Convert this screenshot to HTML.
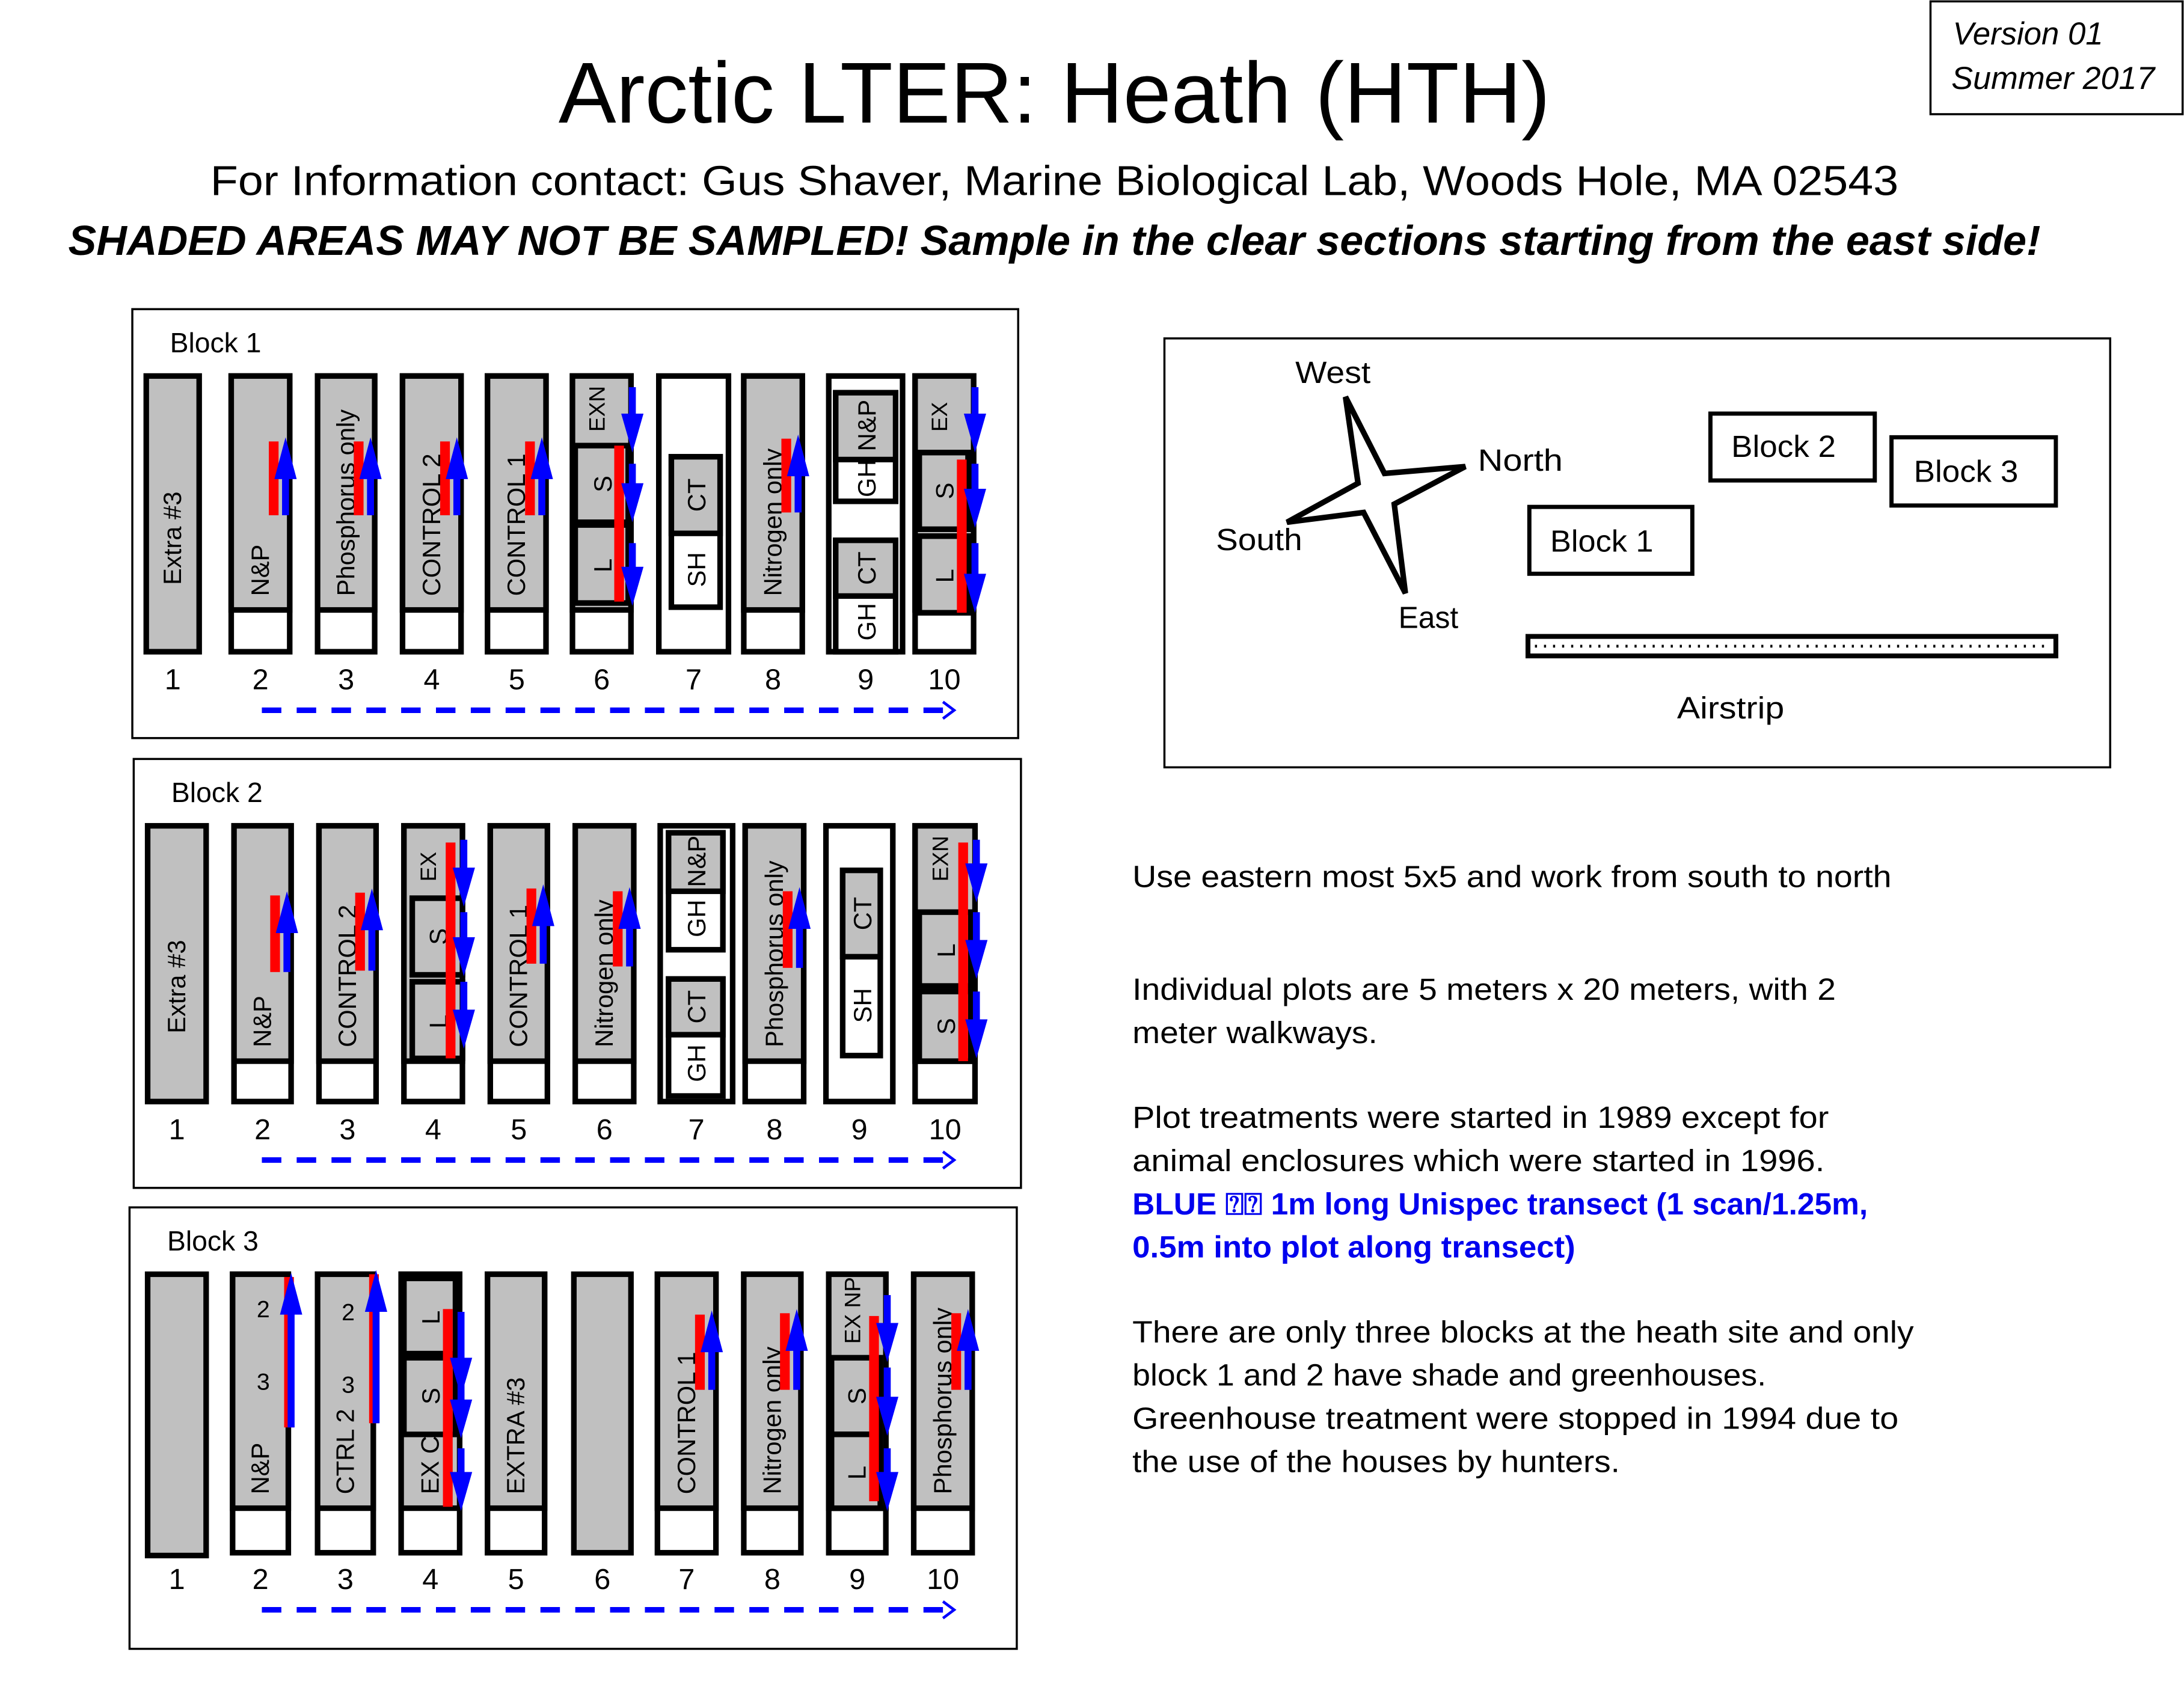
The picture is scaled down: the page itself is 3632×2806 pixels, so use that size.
<!DOCTYPE html>
<html><head><meta charset="utf-8"><style>
html,body{margin:0;padding:0;background:#fff}
svg{display:block}
text{font-family:"Liberation Sans",sans-serif}
</style></head><body>
<svg id="s" xmlns="http://www.w3.org/2000/svg" width="3632" height="2806" viewBox="0 0 1568 1211.4">
<g id="hdr">
<text x="757" y="88" font-size="62" text-anchor="middle" textLength="712" lengthAdjust="spacingAndGlyphs">Arctic LTER: Heath (HTH)</text>
<text x="757" y="140" font-size="30" text-anchor="middle" textLength="1212" lengthAdjust="spacingAndGlyphs">For Information contact: Gus Shaver, Marine Biological Lab, Woods Hole, MA 02543</text>
<text x="757" y="183" font-size="30" font-weight="bold" font-style="italic" text-anchor="middle" textLength="1416" lengthAdjust="spacingAndGlyphs">SHADED AREAS MAY NOT BE SAMPLED! Sample in the clear sections starting from the east side!</text>
<rect x="1386" y="1" width="181" height="81" fill="none" stroke="#000" stroke-width="1.5"/>
<text x="1402" y="32" font-size="23" font-style="italic" textLength="108" lengthAdjust="spacingAndGlyphs">Version 01</text>
<text x="1401" y="64" font-size="23" font-style="italic" textLength="146" lengthAdjust="spacingAndGlyphs">Summer 2017</text>
</g>
<g id="map">
<rect x="836" y="243" width="679" height="308" fill="none" stroke="#000" stroke-width="1.5"/>
<polygon points="966,285 994,340 1052,335 1001,362 1009,426 979,368 924,375 975,347" fill="#fff" stroke="#000" stroke-width="4" stroke-linejoin="miter"/>
<text x="930" y="275" font-size="22" textLength="54" lengthAdjust="spacingAndGlyphs">West</text>
<text x="1061" y="338" font-size="22" textLength="61" lengthAdjust="spacingAndGlyphs">North</text>
<text x="873" y="395" font-size="22" textLength="62" lengthAdjust="spacingAndGlyphs">South</text>
<text x="1004" y="451" font-size="22" textLength="43" lengthAdjust="spacingAndGlyphs">East</text>
<rect x="1098" y="364" width="117" height="48" fill="#fff" stroke="#000" stroke-width="3"/>
<text x="1113" y="396" font-size="22" textLength="74" lengthAdjust="spacingAndGlyphs">Block 1</text>
<rect x="1228" y="297" width="118" height="48" fill="#fff" stroke="#000" stroke-width="3"/>
<text x="1243" y="328" font-size="22" textLength="75" lengthAdjust="spacingAndGlyphs">Block 2</text>
<rect x="1358" y="314" width="118" height="49" fill="#fff" stroke="#000" stroke-width="3"/>
<text x="1374" y="346" font-size="22" textLength="75" lengthAdjust="spacingAndGlyphs">Block 3</text>
<rect x="1097" y="457" width="379" height="14" fill="#fff" stroke="#000" stroke-width="3.5"/>
<line x1="1102" y1="464" x2="1472" y2="464" stroke="#000" stroke-width="2" stroke-dasharray="1.5,5"/>
<text x="1204" y="516" font-size="22" textLength="77" lengthAdjust="spacingAndGlyphs">Airstrip</text>
</g>
<g id="notes" font-size="22">
<text x="813" y="637" font-size="22" textLength="545" lengthAdjust="spacingAndGlyphs">Use eastern most 5x5 and work from south to north</text>
<text x="813" y="718" font-size="22" textLength="505" lengthAdjust="spacingAndGlyphs">Individual plots are 5 meters x 20 meters, with 2</text>
<text x="813" y="749" font-size="22" textLength="176" lengthAdjust="spacingAndGlyphs">meter walkways.</text>
<text x="813" y="810" font-size="22" textLength="500" lengthAdjust="spacingAndGlyphs">Plot treatments were started in 1989 except for</text>
<text x="813" y="841" font-size="22" textLength="497" lengthAdjust="spacingAndGlyphs">animal enclosures which were started in 1996.</text>
<text x="813" y="872" font-size="22" font-weight="bold" fill="#0000ee" textLength="528" lengthAdjust="spacingAndGlyphs">BLUE ⍰⍰ 1m long Unispec transect (1 scan/1.25m,</text>
<text x="813" y="903" font-size="22" font-weight="bold" fill="#0000ee" textLength="318" lengthAdjust="spacingAndGlyphs">0.5m into plot along transect)</text>
<text x="813" y="964" font-size="22" textLength="561" lengthAdjust="spacingAndGlyphs">There are only three blocks at the heath site and only</text>
<text x="813" y="995" font-size="22" textLength="455" lengthAdjust="spacingAndGlyphs">block 1 and 2 have shade and greenhouses.</text>
<text x="813" y="1026" font-size="22" textLength="550" lengthAdjust="spacingAndGlyphs">Greenhouse treatment were stopped in 1994 due to</text>
<text x="813" y="1057" font-size="22" textLength="350" lengthAdjust="spacingAndGlyphs">the use of the houses by hunters.</text>
</g>
<g id="blocks"></g>
</svg>
<script>
const blockNames = ['Block 1','Block 2','Block 3'];
const blockFrames = [[95,222,636,308],[96,545,637,308],[93,867,637,317]];
const plotTops = [270,593,915];
const plotBottoms = [468,791,1115];
const grayEnds = [438,762,1083];
const plotX = [
 [[105,143],[166,208],[228,269],[289,331],[350,392],[411,453],[473,523],[534,576],[595,648],[657,699]],
 [[106,148],[168,209],[229,270],[290,332],[352,393],[413,455],[474,526],[535,577],[593,641],[657,700]],
 [[106,148],[167,207],[228,268],[288,330],[350,391],[412,453],[472,514],[534,575],[595,636],[656,698]]
];
const plotLabels = [
 ['Extra #3','N&P','Phosphorus only','CONTROL 2','CONTROL 1','','','Nitrogen only','',''],
 ['Extra #3','N&P','CONTROL 2','','CONTROL 1','Nitrogen only','','Phosphorus only','',''],
 ['','N&P','CTRL 2','EX C','EXTRA #3','','CONTROL 1','Nitrogen only','','Phosphorus only']
];
const plotKinds = [
 ['full','std','std','std','std','std','white','std','white','std'],
 ['full','std','std','std','std','std','white','std','white','std'],
 ['full','std','std','std','std','full','std','std','std','std']
];
const upArrows = [
 [0,1,317,370],[0,2,317,370],[0,3,317,370],[0,4,317,370],[0,7,315,368],
 [1,1,643,698],[1,2,641,697],[1,4,638,692],[1,5,640,694],[1,7,640,695],
 [2,1,917,1025],[2,2,915,1022],[2,6,944,998],[2,7,943,998],[2,9,943,998]
];
const downArrows = [
 [0,5,278,322],[0,5,333,372],[0,5,390,432],[0,9,278,322],[0,9,333,376],[0,9,390,437],
 [1,3,603,648],[1,3,655,698],[1,3,705,750],[1,9,603,645],[1,9,655,700],[1,9,712,757],
 [2,3,942,1000],[2,3,985,1030],[2,3,1040,1082],[2,8,930,975],[2,8,982,1028],[2,8,1040,1082]
];
const redBars = [[0,5,320,432],[0,9,330,440],[1,3,605,760],[1,9,605,762],[2,3,940,1082],[2,8,945,1078]];
const subBoxes = [
 [0,413,320,38,55,55,'S',''],[0,413,377,38,56,56,'L',''],
 [0,482,328,35,108,55,'CT','SH'],
 [0,600,282,43,78,48,'N&P','GH'],[0,600,388,43,80,40,'CT','GH'],
 [0,660,325,35,55,55,'S',''],[0,660,385,35,55,55,'L',''],
 [1,296,645,36,55,55,'S',''],[1,296,705,36,55,55,'L',''],
 [1,480,598,39,84,42,'N&P','GH'],[1,480,703,39,84,40,'CT','GH'],
 [1,605,625,27,133,62,'CT','SH'],
 [1,660,655,37,53,53,'L',''],[1,660,712,37,50,50,'S',''],
 [2,290,918,37,54,54,'L',''],[2,290,975,37,55,55,'S',''],
 [2,597,975,35,55,55,'S',''],[2,597,1030,35,53,53,'L','']
];
const topLabels = [[0,5,'EXN'],[0,9,'EX'],[1,3,'EX'],[1,9,'EXN'],[2,8,'EX NP']];
const numLabels = ['1','2','3','4','5','6','7','8','9','10'];
const numY = [495,818,1141];

const NS='http://www.w3.org/2000/svg';
const root=document.getElementById('blocks');
function mk(tag,attrs,parent){const e=document.createElementNS(NS,tag);for(const k in attrs)e.setAttribute(k,attrs[k]);(parent||root).appendChild(e);return e;}

blockFrames.forEach((f,b)=>{
  const g=mk('g',{});
  
  
  const fr=mk('rect',{x:f[0],y:f[1],width:f[2],height:f[3],fill:'none',stroke:'#000','stroke-width':1.5},g);
  
  
  const t=mk('text',{x:f[0]+27,y:f[1]+31,'font-size':20},g);
  t.textContent=blockNames[b];
  
  
  const top=plotTops[b],bot=plotBottoms[b],ge=grayEnds[b];
  plotX[b].forEach((px,i)=>{
    const [x0,x1]=px;const kind=plotKinds[b][i];
    const pg=mk('g',{},g);
    
    
    const bb=(b==2&&i==0)?bot+2:bot;
    if(kind==='white'){
      mk('rect',{x:x0,y:top,width:x1-x0,height:bb-top,fill:'#fff',stroke:'#000','stroke-width':4},pg);
    }else if(kind==='full'){
      mk('rect',{x:x0,y:top,width:x1-x0,height:bb-top,fill:'#c0c0c0',stroke:'#000','stroke-width':4},pg);
    }else{
      mk('rect',{x:x0,y:top,width:x1-x0,height:bb-top,fill:'#fff',stroke:'#000','stroke-width':4},pg);
      mk('rect',{x:x0,y:top,width:x1-x0,height:ge-top,fill:'#c0c0c0',stroke:'#000','stroke-width':4},pg);
    }
    const lab=plotLabels[b][i];
    if(lab){
      const cx=(x0+x1)/2+6, by=(kind==='full')?(b==0?420:742):ge-10;
      const tt=mk('text',{x:cx,y:by,'font-size':18,transform:`rotate(-90 ${cx} ${by})`},pg);
      tt.textContent=lab;
      
      
    }
    const n=mk('text',{x:(x0+x1)/2,y:numY[b],'font-size':21,'text-anchor':'middle'},g);
    n.textContent=numLabels[i];
    
    
  });
  if(b==2){
    [[1,940,'2'],[1,992,'3'],[2,942,'2'],[2,994,'3']].forEach(a=>{
      const x=plotX[2][a[0]][0]+22;
      const tt=mk('text',{x:x,y:a[1]+6,'font-size':17,'text-anchor':'middle'},g);
      tt.textContent=a[2];
      
      
    });
  }
  const ay=numY[b]+15;
  const dl=mk('line',{x1:188,y1:ay,x2:678,y2:ay,stroke:'#0000ff','stroke-width':4,'stroke-dasharray':'14,11'},g);
  
  
  mk('polyline',{points:`${677},${ay-6} ${685},${ay} ${677},${ay+6}`,fill:'none',stroke:'#0000ff','stroke-width':2},g);
});

subBoxes.forEach(s=>{
  const [b,x,y,w,h,gh,tl,bl]=s;
  const g=mk('g',{});
  
  
  mk('rect',{x:x,y:y,width:w,height:h,fill:'#fff',stroke:'#000','stroke-width':4},g);
  mk('rect',{x:x,y:y,width:w,height:gh,fill:'#c0c0c0',stroke:'#000','stroke-width':4},g);
  const cx=x+w/2+7;
  if(tl){const by=y+gh/2+(tl.length*6);const t=mk('text',{x:cx,y:by,'font-size':18,transform:`rotate(-90 ${cx} ${by})`},g);t.textContent=tl;
    
    }
  if(bl){const by=y+gh+(h-gh)/2+bl.length*6;const t=mk('text',{x:cx,y:by,'font-size':18,transform:`rotate(-90 ${cx} ${by})`},g);t.textContent=bl;
    
    }
});
topLabels.forEach(a=>{
  const [b,i,txt]=a;const x=(plotX[b][i][0]+plotX[b][i][1])/2;const y=plotTops[b]+(b==2?50:40);
  const t=mk('text',{x:x+2,y:y,'font-size':16,transform:`rotate(-90 ${x+2} ${y})`});
  t.textContent=txt;
  
  
});
redBars.forEach(r=>{
  const [b,i,t0,t1]=r;const x1=plotX[b][i][1];
  const e=mk('rect',{x:x1-12,y:t0,width:7,height:t1-t0,fill:'#ff0000'});
  
  
});
upArrows.forEach(a=>{
  const [b,i,t0,t1]=a;
  const outside=(b==2&&(i==1||i==2));
  const x1=plotX[b][i][1]+(outside?12:0);
  const r=mk('rect',{x:x1-15,y:t0,width:7,height:t1-t0,fill:'#ff0000'});
  
  
  const x=x1-(outside?10:3);
  const l=mk('line',{x1:x,y1:t1,x2:x,y2:t0+15,stroke:'#0000ff','stroke-width':5});
  
  
  const p=mk('polygon',{points:`${x-8},${t0+27} ${x},${t0-3} ${x+8},${t0+27}`,fill:'#0000ff'});
  
  
});
downArrows.forEach(a=>{
  const [b,i,t0,t1]=a;const x=plotX[b][i][1]+1;
  const l=mk('line',{x1:x,y1:t0,x2:x,y2:t1-15,stroke:'#0000ff','stroke-width':5});
  
  
  const p=mk('polygon',{points:`${x-8},${t1-25} ${x},${t1+3} ${x+8},${t1-25}`,fill:'#0000ff'});
  
  
});
</script>
</body></html>
